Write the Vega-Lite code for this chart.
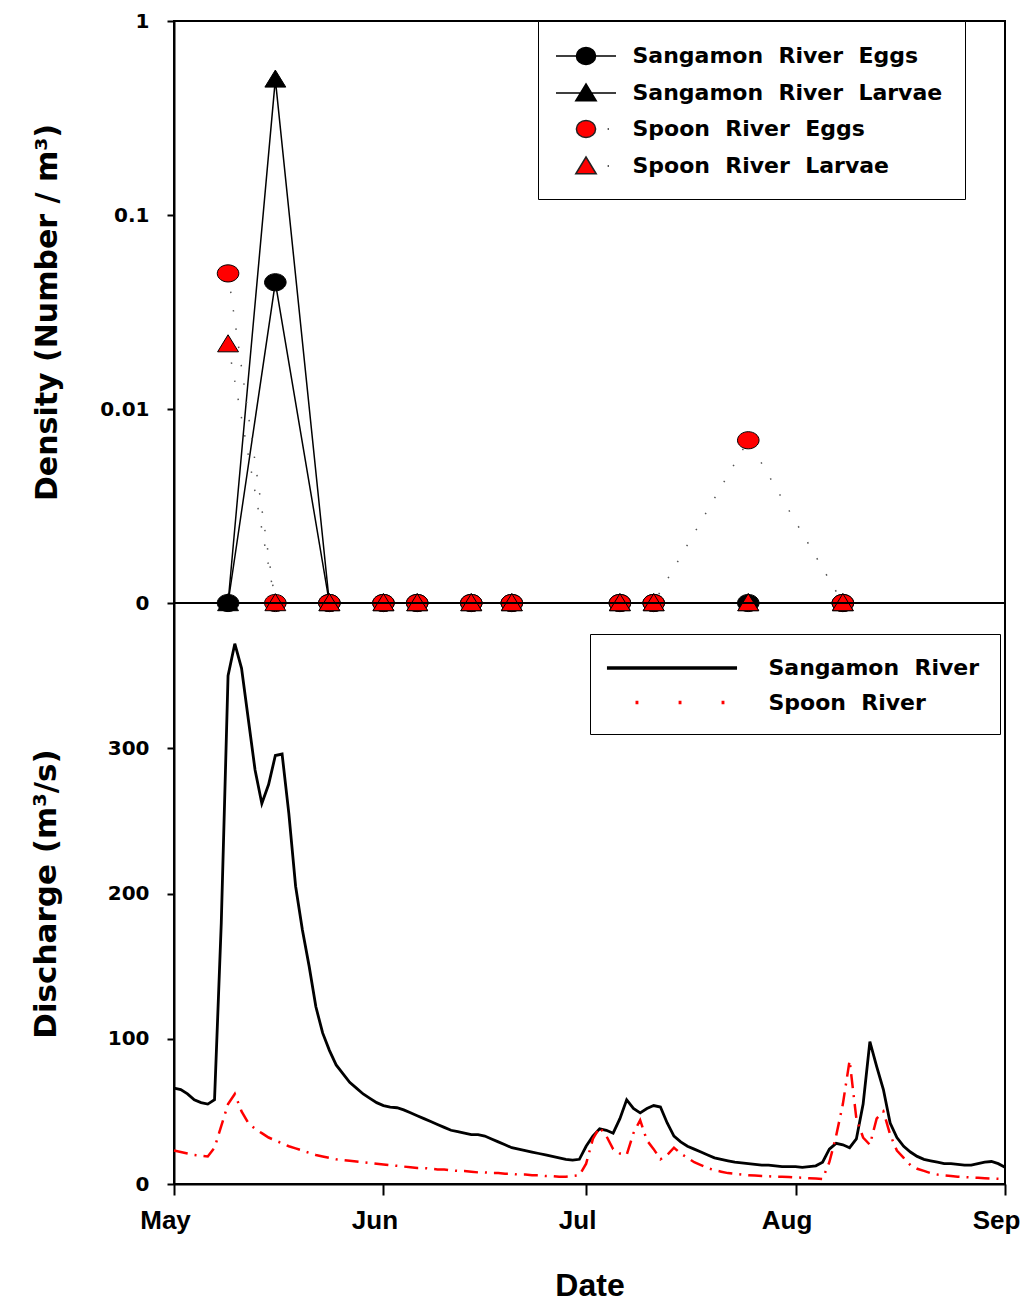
{
  "$schema": "https://vega.github.io/schema/vega-lite/v6.json",
  "background": "white",
  "padding": {"left": 29, "top": 10, "right": 10, "bottom": 0},
  "bounds": "flush",
  "spacing": 0,
  "config": {
    "view": {"stroke": "black", "strokeWidth": 2},
    "axis": {
      "domainColor": "black", "domainWidth": 2, "tickColor": "black", "tickWidth": 2, "grid": false,
      "labelFont": "DejaVu Sans", "labelFontWeight": "bold", "labelFontSize": 20, "labelColor": "black",
      "titleFont": "DejaVu Sans", "titleFontWeight": "bold", "titleFontSize": 30, "titleColor": "black"
    },
    "legend": {"labelFont": "DejaVu Sans", "labelFontWeight": "bold", "labelFontSize": 22, "labelColor": "black", "labelLimit": 400}
  },
  "datasets": {
    "density": [
      {"date": "2015-05-09", "river": "Sangamon River", "stage": "Eggs", "series": "Sangamon River Eggs", "density": 0},
      {"date": "2015-05-16", "river": "Sangamon River", "stage": "Eggs", "series": "Sangamon River Eggs", "density": 0.045},
      {"date": "2015-05-24", "river": "Sangamon River", "stage": "Eggs", "series": "Sangamon River Eggs", "density": 0},
      {"date": "2015-06-01", "river": "Sangamon River", "stage": "Eggs", "series": "Sangamon River Eggs", "density": 0},
      {"date": "2015-06-06", "river": "Sangamon River", "stage": "Eggs", "series": "Sangamon River Eggs", "density": 0},
      {"date": "2015-06-14", "river": "Sangamon River", "stage": "Eggs", "series": "Sangamon River Eggs", "density": 0},
      {"date": "2015-06-20", "river": "Sangamon River", "stage": "Eggs", "series": "Sangamon River Eggs", "density": 0},
      {"date": "2015-07-06", "river": "Sangamon River", "stage": "Eggs", "series": "Sangamon River Eggs", "density": 0},
      {"date": "2015-07-11", "river": "Sangamon River", "stage": "Eggs", "series": "Sangamon River Eggs", "density": 0},
      {"date": "2015-07-25", "river": "Sangamon River", "stage": "Eggs", "series": "Sangamon River Eggs", "density": 0},
      {"date": "2015-08-08", "river": "Sangamon River", "stage": "Eggs", "series": "Sangamon River Eggs", "density": 0},
      {"date": "2015-05-09", "river": "Sangamon River", "stage": "Larvae", "series": "Sangamon River Larvae", "density": 0},
      {"date": "2015-05-16", "river": "Sangamon River", "stage": "Larvae", "series": "Sangamon River Larvae", "density": 0.5},
      {"date": "2015-05-24", "river": "Sangamon River", "stage": "Larvae", "series": "Sangamon River Larvae", "density": 0},
      {"date": "2015-06-01", "river": "Sangamon River", "stage": "Larvae", "series": "Sangamon River Larvae", "density": 0},
      {"date": "2015-06-06", "river": "Sangamon River", "stage": "Larvae", "series": "Sangamon River Larvae", "density": 0},
      {"date": "2015-06-14", "river": "Sangamon River", "stage": "Larvae", "series": "Sangamon River Larvae", "density": 0},
      {"date": "2015-06-20", "river": "Sangamon River", "stage": "Larvae", "series": "Sangamon River Larvae", "density": 0},
      {"date": "2015-07-06", "river": "Sangamon River", "stage": "Larvae", "series": "Sangamon River Larvae", "density": 0},
      {"date": "2015-07-11", "river": "Sangamon River", "stage": "Larvae", "series": "Sangamon River Larvae", "density": 0},
      {"date": "2015-07-25", "river": "Sangamon River", "stage": "Larvae", "series": "Sangamon River Larvae", "density": 0},
      {"date": "2015-08-08", "river": "Sangamon River", "stage": "Larvae", "series": "Sangamon River Larvae", "density": 0},
      {"date": "2015-05-09", "river": "Spoon River", "stage": "Eggs", "series": "Spoon River Eggs", "density": 0.05},
      {"date": "2015-05-16", "river": "Spoon River", "stage": "Eggs", "series": "Spoon River Eggs", "density": 0},
      {"date": "2015-05-24", "river": "Spoon River", "stage": "Eggs", "series": "Spoon River Eggs", "density": 0},
      {"date": "2015-06-01", "river": "Spoon River", "stage": "Eggs", "series": "Spoon River Eggs", "density": 0},
      {"date": "2015-06-06", "river": "Spoon River", "stage": "Eggs", "series": "Spoon River Eggs", "density": 0},
      {"date": "2015-06-14", "river": "Spoon River", "stage": "Eggs", "series": "Spoon River Eggs", "density": 0},
      {"date": "2015-06-20", "river": "Spoon River", "stage": "Eggs", "series": "Spoon River Eggs", "density": 0},
      {"date": "2015-07-06", "river": "Spoon River", "stage": "Eggs", "series": "Spoon River Eggs", "density": 0},
      {"date": "2015-07-11", "river": "Spoon River", "stage": "Eggs", "series": "Spoon River Eggs", "density": 0},
      {"date": "2015-07-25", "river": "Spoon River", "stage": "Eggs", "series": "Spoon River Eggs", "density": 0.0069},
      {"date": "2015-08-08", "river": "Spoon River", "stage": "Eggs", "series": "Spoon River Eggs", "density": 0},
      {"date": "2015-05-09", "river": "Spoon River", "stage": "Larvae", "series": "Spoon River Larvae", "density": 0.0216},
      {"date": "2015-05-16", "river": "Spoon River", "stage": "Larvae", "series": "Spoon River Larvae", "density": 0},
      {"date": "2015-05-24", "river": "Spoon River", "stage": "Larvae", "series": "Spoon River Larvae", "density": 0},
      {"date": "2015-06-01", "river": "Spoon River", "stage": "Larvae", "series": "Spoon River Larvae", "density": 0},
      {"date": "2015-06-06", "river": "Spoon River", "stage": "Larvae", "series": "Spoon River Larvae", "density": 0},
      {"date": "2015-06-14", "river": "Spoon River", "stage": "Larvae", "series": "Spoon River Larvae", "density": 0},
      {"date": "2015-06-20", "river": "Spoon River", "stage": "Larvae", "series": "Spoon River Larvae", "density": 0},
      {"date": "2015-07-06", "river": "Spoon River", "stage": "Larvae", "series": "Spoon River Larvae", "density": 0},
      {"date": "2015-07-11", "river": "Spoon River", "stage": "Larvae", "series": "Spoon River Larvae", "density": 0},
      {"date": "2015-07-25", "river": "Spoon River", "stage": "Larvae", "series": "Spoon River Larvae", "density": 0},
      {"date": "2015-08-08", "river": "Spoon River", "stage": "Larvae", "series": "Spoon River Larvae", "density": 0}
    ],
    "flow": [
      {"date": "2015-05-01", "sangamon": 66, "spoon": 23},
      {"date": "2015-05-02", "sangamon": 65, "spoon": 22},
      {"date": "2015-05-03", "sangamon": 62, "spoon": 21},
      {"date": "2015-05-04", "sangamon": 58, "spoon": 20},
      {"date": "2015-05-05", "sangamon": 56, "spoon": 19.5},
      {"date": "2015-05-06", "sangamon": 55, "spoon": 19},
      {"date": "2015-05-07", "sangamon": 58, "spoon": 25},
      {"date": "2015-05-08", "sangamon": 180, "spoon": 40},
      {"date": "2015-05-09", "sangamon": 350, "spoon": 55},
      {"date": "2015-05-10", "sangamon": 372, "spoon": 62},
      {"date": "2015-05-11", "sangamon": 355, "spoon": 50},
      {"date": "2015-05-12", "sangamon": 320, "spoon": 42},
      {"date": "2015-05-13", "sangamon": 285, "spoon": 38},
      {"date": "2015-05-14", "sangamon": 262, "spoon": 35},
      {"date": "2015-05-15", "sangamon": 275, "spoon": 32},
      {"date": "2015-05-16", "sangamon": 295, "spoon": 30},
      {"date": "2015-05-17", "sangamon": 296, "spoon": 28},
      {"date": "2015-05-18", "sangamon": 255, "spoon": 26},
      {"date": "2015-05-19", "sangamon": 205, "spoon": 24.5},
      {"date": "2015-05-20", "sangamon": 175, "spoon": 23},
      {"date": "2015-05-21", "sangamon": 150, "spoon": 21.5},
      {"date": "2015-05-22", "sangamon": 122, "spoon": 20},
      {"date": "2015-05-23", "sangamon": 104, "spoon": 19},
      {"date": "2015-05-24", "sangamon": 92, "spoon": 18},
      {"date": "2015-05-25", "sangamon": 82, "spoon": 17},
      {"date": "2015-05-26", "sangamon": 76, "spoon": 16.5},
      {"date": "2015-05-27", "sangamon": 70, "spoon": 16},
      {"date": "2015-05-28", "sangamon": 66, "spoon": 15.5},
      {"date": "2015-05-29", "sangamon": 62, "spoon": 15},
      {"date": "2015-05-30", "sangamon": 59, "spoon": 14.5},
      {"date": "2015-05-31", "sangamon": 56, "spoon": 14},
      {"date": "2015-06-01", "sangamon": 54, "spoon": 13.5},
      {"date": "2015-06-02", "sangamon": 53, "spoon": 13},
      {"date": "2015-06-03", "sangamon": 52.5, "spoon": 12.5},
      {"date": "2015-06-04", "sangamon": 51, "spoon": 12},
      {"date": "2015-06-05", "sangamon": 49, "spoon": 11.5},
      {"date": "2015-06-06", "sangamon": 47, "spoon": 11},
      {"date": "2015-06-07", "sangamon": 45, "spoon": 11},
      {"date": "2015-06-08", "sangamon": 43, "spoon": 10.5},
      {"date": "2015-06-09", "sangamon": 41, "spoon": 10},
      {"date": "2015-06-10", "sangamon": 39, "spoon": 10},
      {"date": "2015-06-11", "sangamon": 37, "spoon": 9.5},
      {"date": "2015-06-12", "sangamon": 36, "spoon": 9},
      {"date": "2015-06-13", "sangamon": 35, "spoon": 9},
      {"date": "2015-06-14", "sangamon": 34, "spoon": 8.5},
      {"date": "2015-06-15", "sangamon": 34, "spoon": 8},
      {"date": "2015-06-16", "sangamon": 33, "spoon": 8},
      {"date": "2015-06-17", "sangamon": 31, "spoon": 7.5},
      {"date": "2015-06-18", "sangamon": 29, "spoon": 7.5},
      {"date": "2015-06-19", "sangamon": 27, "spoon": 7},
      {"date": "2015-06-20", "sangamon": 25, "spoon": 7},
      {"date": "2015-06-21", "sangamon": 24, "spoon": 6.5},
      {"date": "2015-06-22", "sangamon": 23, "spoon": 6.5},
      {"date": "2015-06-23", "sangamon": 22, "spoon": 6},
      {"date": "2015-06-24", "sangamon": 21, "spoon": 6},
      {"date": "2015-06-25", "sangamon": 20, "spoon": 5.5},
      {"date": "2015-06-26", "sangamon": 19, "spoon": 5.5},
      {"date": "2015-06-27", "sangamon": 18, "spoon": 5},
      {"date": "2015-06-28", "sangamon": 17, "spoon": 5},
      {"date": "2015-06-29", "sangamon": 16.5, "spoon": 5.5},
      {"date": "2015-06-30", "sangamon": 17, "spoon": 6},
      {"date": "2015-07-01", "sangamon": 26, "spoon": 14},
      {"date": "2015-07-02", "sangamon": 33, "spoon": 31},
      {"date": "2015-07-03", "sangamon": 38, "spoon": 39},
      {"date": "2015-07-04", "sangamon": 37, "spoon": 33},
      {"date": "2015-07-05", "sangamon": 35, "spoon": 24},
      {"date": "2015-07-06", "sangamon": 45, "spoon": 21},
      {"date": "2015-07-07", "sangamon": 58, "spoon": 20},
      {"date": "2015-07-08", "sangamon": 52, "spoon": 35},
      {"date": "2015-07-09", "sangamon": 49, "spoon": 44},
      {"date": "2015-07-10", "sangamon": 52, "spoon": 30},
      {"date": "2015-07-11", "sangamon": 54, "spoon": 24},
      {"date": "2015-07-12", "sangamon": 53, "spoon": 17},
      {"date": "2015-07-13", "sangamon": 42, "spoon": 20},
      {"date": "2015-07-14", "sangamon": 33, "spoon": 25},
      {"date": "2015-07-15", "sangamon": 29, "spoon": 21},
      {"date": "2015-07-16", "sangamon": 26, "spoon": 18},
      {"date": "2015-07-17", "sangamon": 24, "spoon": 15},
      {"date": "2015-07-18", "sangamon": 22, "spoon": 13},
      {"date": "2015-07-19", "sangamon": 20, "spoon": 11},
      {"date": "2015-07-20", "sangamon": 18, "spoon": 9.5},
      {"date": "2015-07-21", "sangamon": 17, "spoon": 8.5},
      {"date": "2015-07-22", "sangamon": 16, "spoon": 7.5},
      {"date": "2015-07-23", "sangamon": 15, "spoon": 7},
      {"date": "2015-07-24", "sangamon": 14.5, "spoon": 6.5},
      {"date": "2015-07-25", "sangamon": 14, "spoon": 6},
      {"date": "2015-07-26", "sangamon": 13.5, "spoon": 5.8},
      {"date": "2015-07-27", "sangamon": 13, "spoon": 5.5},
      {"date": "2015-07-28", "sangamon": 13, "spoon": 5.3},
      {"date": "2015-07-29", "sangamon": 12.5, "spoon": 5},
      {"date": "2015-07-30", "sangamon": 12, "spoon": 5},
      {"date": "2015-07-31", "sangamon": 12, "spoon": 4.8},
      {"date": "2015-08-01", "sangamon": 12, "spoon": 4.5},
      {"date": "2015-08-02", "sangamon": 11.5, "spoon": 4.3},
      {"date": "2015-08-03", "sangamon": 12, "spoon": 4},
      {"date": "2015-08-04", "sangamon": 12.5, "spoon": 3.8},
      {"date": "2015-08-05", "sangamon": 15, "spoon": 3.5},
      {"date": "2015-08-06", "sangamon": 24, "spoon": 15},
      {"date": "2015-08-07", "sangamon": 28, "spoon": 33},
      {"date": "2015-08-08", "sangamon": 27, "spoon": 55},
      {"date": "2015-08-09", "sangamon": 25, "spoon": 85},
      {"date": "2015-08-10", "sangamon": 31, "spoon": 45},
      {"date": "2015-08-11", "sangamon": 55, "spoon": 32},
      {"date": "2015-08-12", "sangamon": 98, "spoon": 27},
      {"date": "2015-08-13", "sangamon": 81, "spoon": 45},
      {"date": "2015-08-14", "sangamon": 65, "spoon": 50},
      {"date": "2015-08-15", "sangamon": 42, "spoon": 34},
      {"date": "2015-08-16", "sangamon": 32, "spoon": 23},
      {"date": "2015-08-17", "sangamon": 26, "spoon": 18},
      {"date": "2015-08-18", "sangamon": 22, "spoon": 13},
      {"date": "2015-08-19", "sangamon": 19, "spoon": 10.5},
      {"date": "2015-08-20", "sangamon": 17, "spoon": 9},
      {"date": "2015-08-21", "sangamon": 16, "spoon": 7.5},
      {"date": "2015-08-22", "sangamon": 15, "spoon": 6.5},
      {"date": "2015-08-23", "sangamon": 14, "spoon": 6},
      {"date": "2015-08-24", "sangamon": 14, "spoon": 5.5},
      {"date": "2015-08-25", "sangamon": 13.5, "spoon": 5},
      {"date": "2015-08-26", "sangamon": 13, "spoon": 4.8},
      {"date": "2015-08-27", "sangamon": 13, "spoon": 4.5},
      {"date": "2015-08-28", "sangamon": 14, "spoon": 4.3},
      {"date": "2015-08-29", "sangamon": 15, "spoon": 4},
      {"date": "2015-08-30", "sangamon": 15.5, "spoon": 3.8},
      {"date": "2015-08-31", "sangamon": 14, "spoon": 3.6},
      {"date": "2015-09-01", "sangamon": 11.5, "spoon": 3.4}
    ]
  },
  "vconcat": [
    {
      "width": 831,
      "height": 582,
      "data": {"name": "density"},
      "encoding": {
        "x": {"field": "date", "type": "temporal", "axis": null,
          "scale": {"type": "utc", "domain": [{"year": 2015, "month": 5, "date": 1, "utc": true}, {"year": 2015, "month": 9, "date": 1, "utc": true}]}},
        "y": {"field": "density", "type": "quantitative",
          "scale": {"type": "log", "domain": [0.001, 1], "clamp": true},
          "axis": {"values": [0.001, 0.01, 0.1, 1], "labelExpr": "datum.value < 0.002 ? '0' : format(datum.value, '~g')",
            "title": "Density (Number / m³)", "tickSize": 7, "labelPadding": 18, "titlePadding": 37}}
      },
      "layer": [
        {"transform": [{"filter": "datum.river === 'Sangamon River'"}],
          "mark": {"type": "line", "color": "black", "strokeWidth": 1.5},
          "encoding": {"detail": {"field": "stage"}}},
        {"transform": [{"filter": "datum.river === 'Spoon River'"}],
          "mark": {"type": "line", "color": "#555555", "strokeWidth": 1.5, "strokeDash": [1.5, 17]},
          "encoding": {"detail": {"field": "stage"}}},
        {"mark": {"type": "point", "filled": true, "stroke": "black", "strokeWidth": 1, "opacity": 1, "size": 484},
          "encoding": {
            "shape": {"field": "stage", "legend": null, "scale": {"domain": ["Eggs", "Larvae"], "range": ["M0.98,0A0.98,0.78 0 1,1 -0.98,0A0.98,0.78 0 1,1 0.98,0Z", "M0,-0.85L0.95,0.7L-0.95,0.7Z"]}},
            "fill": {"field": "river", "legend": null, "scale": {"domain": ["Sangamon River", "Spoon River"], "range": ["black", "#ff0000"]}}
          }},
        {"transform": [{"filter": "false"}],
          "mark": {"type": "point", "filled": true, "strokeWidth": 1.5, "opacity": 1},
          "encoding": {
            "shape": {"field": "series",
              "scale": {"domain": ["Sangamon River Eggs", "Sangamon River Larvae", "Spoon River Eggs", "Spoon River Larvae"],
                "range": ["M-2.5,0L2.5,0M0.8,0A0.8,0.7 0 1,1 -0.8,0A0.8,0.7 0 1,1 0.8,0Z", "M-2.5,0L2.5,0M0,-0.75L0.85,0.65L-0.85,0.65Z", "M0.8,0A0.8,0.7 0 1,1 -0.8,0A0.8,0.7 0 1,1 0.8,0ZM1.8,0L1.92,0", "M0,-0.75L0.85,0.65L-0.85,0.65ZM1.8,0L1.92,0"]},
              "legend": {"title": null, "orient": "none", "legendX": 364, "legendY": 0, "strokeColor": "black", "fillColor": "white",
                "padding": 22, "rowPadding": 12, "symbolOffset": 13, "labelOffset": 33.5, "symbolSize": 576,
                "symbolStrokeColor": "black", "symbolStrokeWidth": 1.5,
                "labelExpr": "replace(datum.label, regexp(' ', 'g'), '\u00a0\u00a0')"}},
            "fill": {"field": "series",
              "scale": {"domain": ["Sangamon River Eggs", "Sangamon River Larvae", "Spoon River Eggs", "Spoon River Larvae"], "range": ["black", "black", "#ff0000", "#ff0000"]},
              "legend": {"title": null, "orient": "none", "legendX": 364, "legendY": 0, "strokeColor": "black", "fillColor": "white",
                "padding": 22, "rowPadding": 12, "symbolOffset": 13, "labelOffset": 33.5, "symbolSize": 576,
                "symbolStrokeColor": "black", "symbolStrokeWidth": 1.5,
                "labelExpr": "replace(datum.label, regexp(' ', 'g'), '\u00a0\u00a0')"}},
            "stroke": {"field": "series",
              "scale": {"domain": ["Sangamon River Eggs", "Sangamon River Larvae", "Spoon River Eggs", "Spoon River Larvae"], "range": ["black", "black", "#222222", "#222222"]},
              "legend": {"title": null, "orient": "none", "legendX": 364, "legendY": 0, "strokeColor": "black", "fillColor": "white",
                "padding": 22, "rowPadding": 12, "symbolOffset": 13, "labelOffset": 33.5, "symbolSize": 576,
                "symbolStrokeWidth": 1.5,
                "labelExpr": "replace(datum.label, regexp(' ', 'g'), '\u00a0\u00a0')"}}
          }}
      ],
      "resolve": {"scale": {"shape": "independent", "fill": "independent", "stroke": "independent"}}
    },
    {
      "width": 831,
      "height": 581,
      "data": {"name": "flow"},
      "encoding": {
        "x": {"field": "date", "type": "temporal",
          "scale": {"type": "utc", "domain": [{"year": 2015, "month": 5, "date": 1, "utc": true}, {"year": 2015, "month": 9, "date": 1, "utc": true}]},
          "axis": {"values": [{"year": 2015, "month": 5, "date": 1, "utc": true}, {"year": 2015, "month": 6, "date": 1, "utc": true}, {"year": 2015, "month": 7, "date": 1, "utc": true}, {"year": 2015, "month": 8, "date": 1, "utc": true}, {"year": 2015, "month": 9, "date": 1, "utc": true}],
            "labelExpr": "utcFormat(datum.value, '%b')", "labelFont": "Liberation Sans", "labelFontSize": 26, "labelOffset": -9,
            "labelOverlap": false, "labelFlush": false, "labelBound": false, "tickSize": 11, "labelPadding": 12,
            "title": "Date", "titleFont": "Liberation Sans", "titleFontSize": 32, "titlePadding": 37}}
      },
      "layer": [
        {"mark": {"type": "line", "color": "black", "strokeWidth": 2.8},
          "encoding": {"y": {"field": "sangamon", "type": "quantitative", "scale": {"domain": [0, 400], "nice": false},
            "axis": {"values": [0, 100, 200, 300], "title": "Discharge (m³/s)", "titleFontSize": 31, "tickSize": 7, "labelPadding": 18, "titlePadding": 45}}}},
        {"mark": {"type": "line", "color": "#ff0000", "strokeWidth": 2.5, "strokeDash": [14, 7, 2, 7]},
          "encoding": {"y": {"field": "spoon", "type": "quantitative", "title": "Discharge (m³/s)"}}},
        {"transform": [{"filter": "false"}],
          "mark": {"type": "point", "filled": false, "strokeWidth": 3.5, "opacity": 1},
          "encoding": {
            "y": {"field": "sangamon", "type": "quantitative", "title": "Discharge (m³/s)"},
            "shape": {"field": "river",
              "scale": {"domain": ["Sangamon River", "Spoon River"], "range": ["M-5.42,0L5.42,0", "M-3.04,0L-2.8,0M0.55,0L0.79,0M4.13,0L4.37,0"]},
              "legend": {"title": null, "orient": "none", "legendX": 416, "legendY": 613, "strokeColor": "black", "fillColor": "white",
                "padding": 20, "rowPadding": 9.5, "symbolOffset": 48, "labelOffset": 82.5, "symbolSize": 576, "symbolStrokeWidth": 3.5,
                "labelExpr": "replace(datum.label, regexp(' ', 'g'), '\u00a0\u00a0')"}},
            "stroke": {"field": "river",
              "scale": {"domain": ["Sangamon River", "Spoon River"], "range": ["black", "#ff0000"]},
              "legend": {"title": null, "orient": "none", "legendX": 416, "legendY": 613, "strokeColor": "black", "fillColor": "white",
                "padding": 20, "rowPadding": 9.5, "symbolOffset": 48, "labelOffset": 82.5, "symbolSize": 576, "symbolStrokeWidth": 3.5,
                "labelExpr": "replace(datum.label, regexp(' ', 'g'), '\u00a0\u00a0')"}}
          }}
      ]
    }
  ]
}
